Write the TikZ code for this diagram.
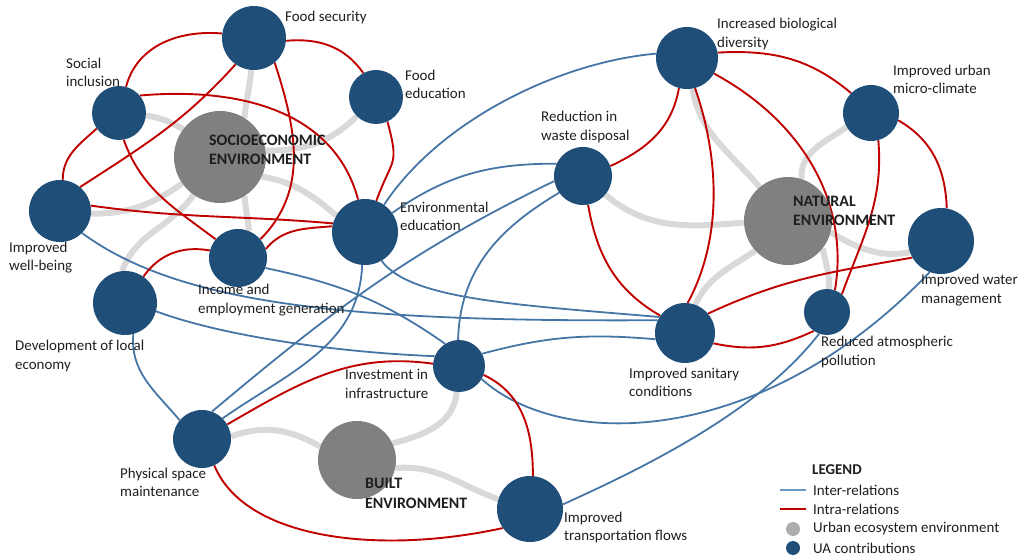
\documentclass[tikz,border=0pt]{standalone}
\usepackage{fontspec}
\setmainfont{Carlito}
\definecolor{uablue}{HTML}{1F4E79}
\definecolor{hubgray}{HTML}{808080}
\definecolor{edgegray}{HTML}{D9D9D9}
\definecolor{interblue}{HTML}{4676A6}
\definecolor{intrared}{HTML}{C00000}
\definecolor{txt}{HTML}{1E1E1E}
\definecolor{leggray}{HTML}{ADADAD}
\definecolor{legblue}{HTML}{6A98C4}
\pgfdeclarelayer{bg}
\pgfsetlayers{bg,main}
\begin{document}
\begin{tikzpicture}[x=1bp,y=1bp,
  ua/.style={circle,fill=uablue,draw=none,inner sep=0pt,minimum size=#1bp},
  hub/.style={circle,fill=hubgray,draw=none,inner sep=0pt,minimum size=#1bp},
  lbl/.style={anchor=west,align=left,inner sep=0pt,text=txt,font=\fontsize{15}{18.3}\selectfont},
  blbl/.style={anchor=west,align=left,inner sep=0pt,text=txt,font=\fontsize{16}{19.5}\selectfont\bfseries},
  gedge/.style={draw=edgegray,line width=6bp},
  inter/.style={draw=interblue,line width=1.8bp},
  intra/.style={draw=intrared,line width=1.9bp},
]
\useasboundingbox (0,0) rectangle (1024,-556);
% nodes
\node[ua=64] (FS) at (254,-38) {};
\node[ua=54] (SI) at (119,-113) {};
\node[ua=54] (FE) at (376,-97) {};
\node[ua=62] (IWB) at (60,-211) {};
\node[hub=92] (SOC) at (220,-157) {};
\node[ua=58] (Inc) at (238,-258) {};
\node[ua=66] (EE) at (365,-232) {};
\node[ua=64] (DLE) at (125,-303) {};
\node[ua=58] (PS) at (202,-439) {};
\node[hub=78] (BLT) at (357,-460) {};
\node[ua=52] (Inv) at (459,-366) {};
\node[ua=66] (ITF) at (530,-509) {};
\node[ua=58] (RWD) at (583,-176) {};
\node[ua=60] (ISC) at (685,-333) {};
\node[ua=62] (IBD) at (687,-58) {};
\node[ua=56] (UMC) at (871,-113) {};
\node[hub=88] (NAT) at (788,-221) {};
\node[ua=66] (IWM) at (941,-241) {};
\node[ua=46] (RAP) at (827,-312) {};

\begin{pgfonlayer}{bg}
% gray hub links
\draw[gedge] (SOC.58) to[out=85,in=-95] (FS.-95);
\draw[gedge] (SI.-5) to[out=-10,in=150] (SOC.143);
\draw[gedge] (SOC.8) to[out=0,in=225] (FE.225);
\draw[gedge] (SOC.-25) to[out=-10,in=140] (EE.150);
\draw[gedge] (SOC.-58) to[out=-85,in=95] (Inc.68);
\draw[gedge] (SOC.215) to[out=215,in=0] (IWB.-5);
\draw[gedge] (SOC.235) to[out=235,in=70] (DLE.95);
\draw[gedge] (PS.5) to[out=20,in=150] (BLT.160);
\draw[gedge] (BLT.25) to[out=15,in=-95] (Inv.-95);
\draw[gedge] (BLT.-12) to[out=5,in=160] (ITF.163);
\draw[gedge] (NAT.130) to[out=130,in=-80] (IBD.-80);
\draw[gedge] (NAT.72) to[out=95,in=215] (UMC.210);
\draw[gedge] (NAT.182) to[out=185,in=-40] (RWD.-40);
\draw[gedge] (NAT.-15) to[out=-30,in=190] (IWM.200);
\draw[gedge] (NAT.-38) to[out=-80,in=88] (RAP.85);
\draw[gedge] (NAT.222) to[out=215,in=65] (ISC.70);
% inter-relations (blue)
\draw[inter] (IBD.172) .. controls (560,-62) and (440,-120) .. (EE.55);
\draw[inter] (RWD.155) to[out=180,in=35] (EE.35);
\draw[inter] (RWD.190) to[out=206,in=40] (PS.70);
\draw[inter] (RWD.215) .. controls (505,-225) and (460,-265) .. (Inv.92);
\draw[inter] (EE.-95) to[out=-92,in=35] (PS.45);
\draw[inter] (EE.-60) .. controls (410,-300) and (520,-305) .. (ISC.148);
\draw[inter] (IWB.-45) .. controls (180,-305) and (350,-322) .. (ISC.155);
\draw[inter] (Inc.-20) to[out=-12,in=145] (Inv.122);
\draw[inter] (DLE.-15) .. controls (220,-335) and (330,-352) .. (Inv.158);
\draw[inter] (DLE.-75) to[out=-95,in=130] (PS.140);
\draw[inter] (Inv.28) to[out=15,in=175] (ISC.192);
\draw[inter] (Inv.-30) .. controls (560,-450) and (760,-450) .. (IWM.250);
\draw[inter] (ITF.8) .. controls (650,-465) and (760,-410) .. (RAP.250);
% intra-relations (red)
\draw[intra] (FS.172) to[out=175,in=75] (SI.75);
\draw[intra] (FS.-5) to[out=5,in=125] (FE.118);
\draw[intra] (FS.235) to[out=228,in=33] (IWB.50);
\draw[intra] (FS.-50) to[out=-72,in=45] (Inc.40);
\draw[intra] (SI.40) to[out=5,in=105] (EE.102);
\draw[intra] (SI.-80) to[out=-70,in=143] (Inc.140);
\draw[intra] (SI.215) to[out=222,in=90] (IWB.85);
\draw[intra] (IWB.10) to[out=-8,in=175] (EE.165);
\draw[intra] (Inc.165) to[out=170,in=55] (DLE.55);
\draw[intra] (Inc.18) to[out=50,in=185] (EE.170);
\draw[intra] (FE.-65) to[out=-75,in=70,looseness=1.5] (EE.70);
\draw[intra] (PS.30) to[out=30,in=172] (Inv.175);
\draw[intra] (PS.-65) .. controls (245,-540) and (380,-555) .. (ITF.215);
\draw[intra] (Inv.-20) to[out=-25,in=90] (ITF.85);
\draw[intra] (IBD.255) to[out=260,in=25] (RWD.20);
\draw[intra] (IBD.10) to[out=3,in=140] (UMC.135);
\draw[intra] (IBD.-75) .. controls (720,-160) and (722,-240) .. (ISC.85);
\draw[intra] (IBD.-30) .. controls (800,-120) and (850,-200) .. (RAP.70);
\draw[intra] (UMC.-75) to[out=-85,in=70] (RAP.50);
\draw[intra] (UMC.-15) to[out=-30,in=92] (IWM.80);
\draw[intra] (RWD.-80) to[out=-80,in=150] (ISC.145);
\draw[intra] (IWM.210) to[out=190,in=25] (ISC.40);
\draw[intra] (ISC.-20) to[out=-12,in=205] (RAP.235);
\end{pgfonlayer}

% labels
\node[lbl] (lFS) at (285,-18) {Food security};
\node[lbl] (lSI) at (66,-72) {Social\\inclusion};
\node[lbl] (lFE) at (405,-84) {Food\\education};
\node[blbl] (lSOC) at (209,-150) {SOCIOECONOMIC\\ENVIRONMENT};
\node[lbl] (lIWB) at (9,-257.5) {Improved\\well-being};
\node[lbl] (lEE) at (400,-216) {Environmental\\education};
\node[lbl] (lInc) at (198,-300) {Income and\\employment generation};
\node[lbl] (lDLE) at (15,-356) {Development of local\\economy};
\node[lbl] (lInv) at (345,-384) {Investment in\\infrastructure};
\node[lbl] (lPS) at (120,-482) {Physical space\\maintenance};
\node[blbl] (lBLT) at (365,-493.5) {BUILT\\ENVIRONMENT};
\node[lbl] (lITF) at (564,-527.5) {Improved\\transportation flows};
\node[lbl] (lRWD) at (541,-127) {Reduction in\\waste disposal};
\node[lbl] (lIBD) at (717,-34) {Increased biological\\diversity};
\node[lbl] (lUMC) at (893,-79) {Improved urban\\micro-climate};
\node[blbl] (lNAT) at (793,-211) {NATURAL\\ENVIRONMENT};
\node[lbl] (lIWM) at (921,-290) {Improved water\\management};
\node[lbl] (lRAP) at (821,-352) {Reduced atmospheric\\pollution};
\node[lbl] (lISC) at (629,-382) {Improved sanitary\\conditions};

% legend
\node[blbl,font=\fontsize{15}{18}\selectfont\bfseries] (lgT) at (812,-470) {LEGEND};
\coordinate (lg1a) at (780,-490); \coordinate (lg1b) at (806,-490);
\draw[draw=legblue,line width=2.2bp] (lg1a) -- (lg1b);
\node[lbl] (lg1) at (813,-490) {Inter-relations};
\coordinate (lg2a) at (780,-509); \coordinate (lg2b) at (806,-509);
\draw[intra,line width=2.2bp] (lg2a) -- (lg2b);
\node[lbl] (lg2) at (813,-509) {Intra-relations};
\node[circle,fill=leggray,draw=none,inner sep=0pt,minimum size=14bp] (lg3c) at (793,-529) {};
\node[lbl] (lg3) at (813,-529) {Urban ecosystem environment};
\node[ua=14] (lg4c) at (793,-548) {};
\node[lbl] (lg4) at (813,-548) {UA contributions};
\end{tikzpicture}
\end{document}
